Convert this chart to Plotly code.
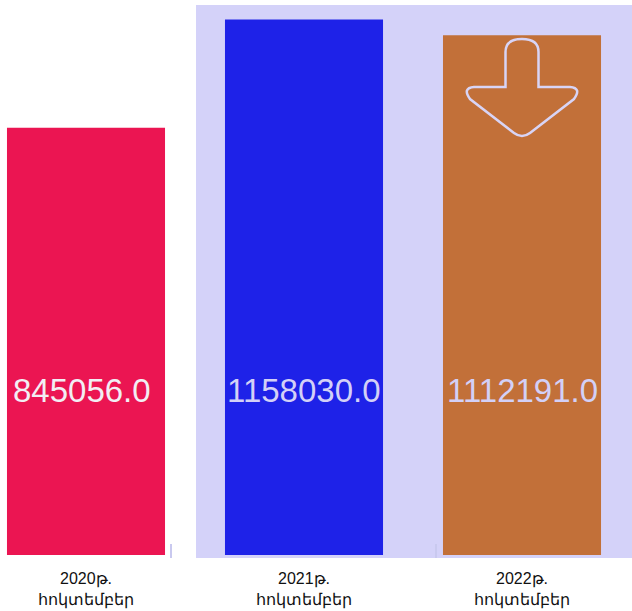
import plotly.graph_objects as go

categories = ["2020թ.<br>հոկտեմբեր", "2021թ.<br>հոկտեմբեր", "2022թ.<br>հոկտեմբեր"]
values = [845056.0, 1158030.0, 1112191.0]
bar_colors = ["#eb1552", "#1e22e8", "#c27039"]
label_colors = ["#f2eef4", "#d3d0f7", "#d3d0f7"]

AXIS_MIN = -390000
AXIS_MAX = 1200000
LAVENDER = "#d4d2f9"

xs = list(range(len(categories)))

fig = go.Figure()
fig.add_trace(go.Bar(
    x=xs,
    y=[v - AXIS_MIN for v in values],
    base=[AXIS_MIN] * len(values),
    marker=dict(color=bar_colors, line=dict(width=0)),
    hoverinfo="skip",
))

# value labels
label_xshift = [-4, 0, 0]
for i, v in enumerate(values):
    fig.add_annotation(
        x=xs[i], xref="x", y=0.3, yref="paper",
        text=f"{v:.1f}", showarrow=False, xshift=label_xshift[i],
        font=dict(family="Liberation Sans, Arial, sans-serif", size=33, color=label_colors[i]),
        xanchor="center", yanchor="middle",
    )

shapes = []
# lavender highlight region behind last two bars
shapes.append(dict(type="rect", xref="paper", yref="paper",
                   x0=196 / 632, x1=1.0, y0=-0.0055, y1=1.0,
                   fillcolor=LAVENDER, line=dict(width=0), layer="below"))
# small tick marks
for px in (171, 436):
    shapes.append(dict(type="line", xref="paper", yref="paper",
                       x0=px / 632, x1=px / 632, y0=-0.0055, y1=0.02,
                       line=dict(color="#c9c9ef", width=2), layer="below"))

# down-arrow outline on the last bar (pixel path, y up)
pts_path = ("M -16.5,0 L -16.5,35 Q -16.5,48 0,48 Q 16.5,48 16.5,35 L 16.5,0 "
            "L 48,0 Q 60,-1 52,-12 L 8,-46 Q 0,-52 -8,-46 L -52,-12 Q -60,-1 -48,0 Z")
shapes.append(dict(type="path", xref="x", yref="paper",
                   xsizemode="pixel", ysizemode="pixel",
                   xanchor=xs[2], yanchor=(555 - 87) / 550,
                   path=pts_path,
                   line=dict(color="#d8d4f6", width=2.5),
                   fillcolor="rgba(0,0,0,0)", layer="above"))

fig.update_layout(
    width=632, height=611,
    margin=dict(l=0, r=0, t=5, b=56),
    paper_bgcolor="white",
    plot_bgcolor="rgba(0,0,0,0)",
    bargap=0.275,
    showlegend=False,
    shapes=shapes,
    xaxis=dict(range=[-86 / 218, 2 + 110 / 218], tickvals=xs, ticktext=categories,
               showgrid=False, zeroline=False, showline=False, ticks="",
               ticklabelstandoff=12,
               tickfont=dict(family="Liberation Sans, Noto Sans, Arial, sans-serif", size=16, color="#111111")),
    yaxis=dict(range=[AXIS_MIN, AXIS_MAX], visible=False, showgrid=False, zeroline=False),
)

fig.write_html("out.html", config={"displayModeBar": False},
               post_script="document.body.style.margin='0';document.body.style.overflow='hidden';")
